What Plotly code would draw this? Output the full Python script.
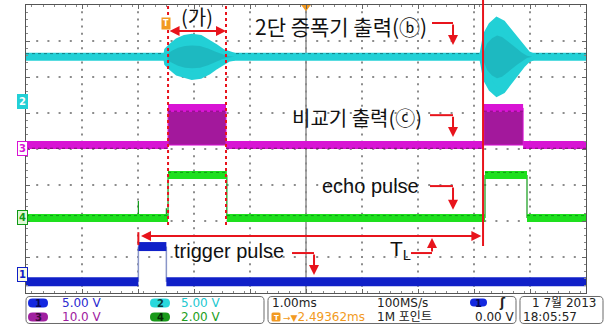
import plotly.graph_objects as go

# ---------------- acquisition settings ----------------
TIME_DIV = 1.0                 # ms / div
DELAY = 2.49362                # trigger delay shown on the status bar (ms)
N_XDIV, N_YDIV = 10, 8
T_START = -2.50638             # left edge of the screen, ms from trigger
T_END = T_START + N_XDIV * TIME_DIV
T_CENTER = T_START + N_XDIV / 2 * TIME_DIV

# ---------------- channel data ----------------
# CH1 : trigger pulse (5 V/div)
ch1_scale, ch1_offset = 5.0, 0.31
ch1_pulses = [(-0.50, 0.00)]
ch1_high = 4.9

# CH2 : 2-stage amplifier output (5 V/div), burst envelopes
ch2_scale, ch2_offset = 5.0, 6.56
burst1_t = [0.012, 0.03, 0.10, 0.208, 0.333, 0.458, 0.601, 0.744, 0.869, 0.994, 1.101, 1.208]
burst1_amp = [0.0, 0.83, 1.39, 2.08, 2.50, 2.64, 2.50, 1.94, 1.25, 0.56, 0.14, 0.0]
burst2_t = [5.655, 5.673, 5.727, 5.816, 5.905, 5.994, 6.083, 6.172, 6.262, 6.351, 6.44, 6.53]
burst2_amp = [0.0, 1.25, 3.06, 4.31, 4.93, 4.58, 3.75, 2.78, 1.81, 0.97, 0.28, 0.0]

# CH3 : comparator output (10 V/div)
ch3_scale, ch3_offset = 10.0, 4.11
ch3_pulses = [(0.03, 1.065), (5.67, 6.37)]
ch3_high = 10.3

# CH4 : echo pulse (2 V/div)
ch4_scale, ch4_offset = 2.0, 2.08
ch4_pulses = [(0.03, 1.08), (5.69, 6.44)]
ch4_high = 2.4
ch4_spikes = [(-0.50, 0.95), (0.00, 0.55)]

# ---------------- markers ----------------
gate_t = [0.03, 1.065]         # (가) window
echo_t = 5.655                 # start of the second echo
trig_t = -0.50                 # start of trigger pulse

# ---------------- colours ----------------
C_BLUE = "#1020c8"
C_BLUE_EDGE = "#8a96c8"
C_CYAN = "#22d0d6"
C_CYAN_DARK = "#1aa7b0"
C_MAG = "#d814d4"
C_MAG_FILL = "#a3189c"
C_GREEN = "#1ee01e"
C_GREEN_DARK = "#0f9a16"
C_RED = "#e8141c"
C_ORANGE = "#f29a22"

W, H = 609, 326
ML, MR, MT, MB = 26, 23, 5, 33
PW, PH = W - ML - MR, H - MT - MB


def pp(px, py):
    """pixel position -> paper coordinates"""
    return (px - ML) / PW, (H - MB - py) / PH


def level_segments(pulses, lo, hi):
    hx, hy, ex, ey = [], [], [], []
    t = T_START
    for a, b in pulses:
        hx += [t, a, None, a, b, None]
        hy += [lo, lo, None, hi, hi, None]
        ex += [a, a, None, b, b, None]
        ey += [lo, hi, None, hi, lo, None]
        t = b
    hx += [t, T_END]
    hy += [lo, lo]
    return hx, hy, ex, ey


fig = go.Figure()

# ---- dotted graticule (5 dots per division) ----
gx, gy = [], []
for i in range(1, N_XDIV):
    for k in range(1, N_YDIV * 5):
        gx.append(T_START + i * TIME_DIV)
        gy.append(k * 0.2)
for j in range(1, N_YDIV):
    for k in range(1, N_XDIV * 5):
        gx.append(T_START + k * 0.2 * TIME_DIV)
        gy.append(j)
fig.add_trace(go.Scatter(x=gx, y=gy, mode="markers", hoverinfo="skip",
                         marker=dict(symbol="square", size=2, color="#8c8c8c", line=dict(width=0))))

# ---- CH3 comparator output ----
lo3 = ch3_offset
hi3 = ch3_offset + ch3_high / ch3_scale
for a, b in ch3_pulses:
    fig.add_trace(go.Scatter(x=[a, b, b, a, a], y=[lo3, lo3, hi3, hi3, lo3], fill="toself",
                             fillcolor=C_MAG_FILL, line=dict(color=C_MAG, width=1),
                             mode="lines", hoverinfo="skip"))
hx, hy, ex, ey = level_segments(ch3_pulses, lo3, hi3)
fig.add_trace(go.Scatter(x=hx, y=hy, mode="lines", line=dict(color=C_MAG, width=8), hoverinfo="skip"))
fig.add_trace(go.Scatter(x=hx, y=[None if v is None else v - 0.09 for v in hy], mode="lines",
                         line=dict(color="#7a1070", width=1, dash="dot"), hoverinfo="skip"))

# ---- CH4 echo pulse ----
lo4 = ch4_offset
hi4 = ch4_offset + ch4_high / ch4_scale
hx, hy, ex, ey = level_segments(ch4_pulses, lo4, hi4)
fig.add_trace(go.Scatter(x=ex, y=ey, mode="lines", line=dict(color=C_GREEN_DARK, width=1.2), hoverinfo="skip"))
sx, sy = [], []
for t, v in ch4_spikes:
    sx += [t, t, None]
    sy += [lo4, lo4 + v / ch4_scale, None]
fig.add_trace(go.Scatter(x=sx, y=sy, mode="lines", line=dict(color=C_GREEN_DARK, width=1.2), hoverinfo="skip"))
fig.add_trace(go.Scatter(x=hx, y=hy, mode="lines", line=dict(color=C_GREEN, width=8), hoverinfo="skip"))
fig.add_trace(go.Scatter(x=hx, y=[None if v is None else v + 0.07 for v in hy], mode="lines",
                         line=dict(color=C_GREEN_DARK, width=1, dash="dot"), hoverinfo="skip"))

# ---- CH1 trigger pulse ----
lo1 = ch1_offset
hi1 = ch1_offset + ch1_high / ch1_scale
hx, hy, ex, ey = level_segments(ch1_pulses, lo1, hi1)
fig.add_trace(go.Scatter(x=ex, y=ey, mode="lines", line=dict(color=C_BLUE_EDGE, width=1.5), hoverinfo="skip"))
fig.add_trace(go.Scatter(x=hx, y=hy, mode="lines", line=dict(color=C_BLUE, width=9), hoverinfo="skip"))

# ---- CH2 amplifier output ----
fig.add_trace(go.Scatter(x=[T_START, T_END], y=[ch2_offset, ch2_offset], mode="lines",
                         line=dict(color=C_CYAN, width=8), hoverinfo="skip"))
fig.add_trace(go.Scatter(x=[T_START, T_END], y=[ch2_offset + 0.09, ch2_offset + 0.09], mode="lines",
                         line=dict(color="#137f86", width=1, dash="dot"), hoverinfo="skip"))
for bt, ba in ((burst1_t, burst1_amp), (burst2_t, burst2_amp)):
    up = [ch2_offset + a / ch2_scale for a in ba]
    dn = [ch2_offset - a / ch2_scale for a in ba]
    fig.add_trace(go.Scatter(x=bt + bt[::-1], y=up + dn[::-1], fill="toself", fillcolor=C_CYAN,
                             mode="lines", line=dict(color=C_CYAN, width=8), hoverinfo="skip"))
    up2 = [ch2_offset + 0.6 * a / ch2_scale for a in ba]
    dn2 = [ch2_offset - 0.6 * a / ch2_scale for a in ba]
    fig.add_trace(go.Scatter(x=bt + bt[::-1], y=up2 + dn2[::-1], fill="toself", fillcolor=C_CYAN_DARK,
                             mode="lines", line=dict(color=C_CYAN_DARK, width=0), opacity=0.55,
                             hoverinfo="skip"))

# ---- trigger position marker (top) ----
fig.add_trace(go.Scatter(x=[T_CENTER], y=[N_YDIV - 0.05], mode="markers", cliponaxis=False,
                         marker=dict(symbol="triangle-down", size=9, color=C_ORANGE), hoverinfo="skip"))

shapes = []
annos = []

# centre graticule line
shapes.append(dict(type="line", xref="x", yref="y", x0=T_CENTER, x1=T_CENTER, y0=0, y1=N_YDIV,
                   line=dict(color="#555", width=1), layer="below"))

# ---- red annotation marks ----
RED_LINE = dict(color=C_RED, width=2)
for t in gate_t:
    shapes.append(dict(type="line", xref="x", yref="y", x0=t, x1=t, y0=1.89, y1=N_YDIV,
                       line=dict(color=C_RED, width=2, dash="dot")))
shapes.append(dict(type="line", xref="x", yref="paper", x0=echo_t, x1=echo_t, y0=pp(0, 246)[1],
                   y1=pp(0, 0)[1], line=RED_LINE))
shapes.append(dict(type="line", xref="x", yref="y", x0=trig_t, x1=trig_t, y0=1.33, y1=1.69,
                   line=RED_LINE))


def arrow(x, y, ax, ay, both=False):
    annos.append(dict(x=x, y=y, ax=ax, ay=ay, xref="x", yref="y", axref="x", ayref="y", text="",
                      showarrow=True, arrowhead=2, arrowsize=1, arrowwidth=2, arrowcolor=C_RED,
                      standoff=0, startstandoff=0,
                      arrowside="end+start" if both else "end", startarrowhead=2, startarrowsize=1))


def hline(x0, x1, y):
    shapes.append(dict(type="line", xref="x", yref="y", x0=x0, x1=x1, y0=y, y1=y, line=RED_LINE))


# (가) window
arrow(gate_t[1], 7.28, gate_t[0], 7.28, both=True)
# T_L
arrow(echo_t - 0.03, 1.58, trig_t + 0.02, 1.58, both=True)
# label pointers
hline(4.744, 5.119, 7.50); arrow(5.119, 6.89, 5.119, 7.50)
hline(4.708, 5.119, 4.94); arrow(5.119, 4.33, 5.119, 4.94)
hline(4.708, 5.119, 2.97); arrow(5.119, 2.31, 5.119, 2.97)
hline(2.244, 2.637, 1.11); arrow(2.637, 0.50, 2.637, 1.11)
hline(4.369, 4.744, 1.11); arrow(4.744, 1.53, 4.744, 1.11)

KR = "Noto Sans CJK KR"
EN = "Liberation Sans, Arial"


def label(x, y, text, size=20, family=KR, anchor="left"):
    annos.append(dict(x=x, y=y, xref="x", yref="y", text=text, showarrow=False, xanchor=anchor,
                      yanchor="middle", font=dict(family=family, size=size, color="#111")))


label(0.547, 7.69, "(가)", anchor="center")
label(1.547, 7.43, "2단 증폭기 출력(ⓑ)", size=21)
label(2.208, 4.875, "비교기 출력(ⓒ)", size=20)
label(2.744, 2.97, "echo pulse", family=EN)
label(0.101, 1.167, "trigger pulse", family=EN)
label(3.958, 1.19, "T<sub>L</sub>", size=21, family=EN)

# trigger "T" marker
annos.append(dict(x=0.0, y=pp(0, 16.5)[1], xref="x", yref="paper", text="<b>T</b>", showarrow=False,
                  bgcolor=C_ORANGE, borderpad=1, font=dict(family="DejaVu Sans", size=8, color="white")))

# channel position markers
for num, py, bg, border, fg in (("2", 101, C_CYAN, C_CYAN, "white"),
                                 ("3", 148, "white", C_MAG, C_MAG),
                                 ("4", 225, "#dff7d6", C_GREEN_DARK, C_GREEN_DARK),
                                 ("1", 282, "#fbfbe4", C_BLUE, C_BLUE)):
    x, y = pp(17, py)
    annos.append(dict(x=x, y=y, xref="paper", yref="paper", text=f"<b>{num}</b>", showarrow=False,
                      bgcolor=bg, bordercolor=border, borderwidth=1, borderpad=1,
                      font=dict(family="DejaVu Sans", size=10, color=fg)))


# ---------------- status bar ----------------
def rbox(px0, py0, px1, py1, r, fill=None, line="#6a6a6a"):
    def P(a, b):
        x, y = pp(a, b)
        return f"{x:.5f},{y:.5f}"
    path = (f"M{P(px0 + r, py0)} L{P(px1 - r, py0)} Q{P(px1, py0)} {P(px1, py0 + r)} "
            f"L{P(px1, py1 - r)} Q{P(px1, py1)} {P(px1 - r, py1)} L{P(px0 + r, py1)} "
            f"Q{P(px0, py1)} {P(px0, py1 - r)} L{P(px0, py0 + r)} Q{P(px0, py0)} {P(px0 + r, py0)} Z")
    shapes.append(dict(type="path", xref="paper", yref="paper", path=path,
                       fillcolor=fill if fill else "rgba(0,0,0,0)",
                       line=dict(color=line if line else "rgba(0,0,0,0)", width=1)))


rbox(26, 296.5, 264, 323.5, 4)
rbox(268, 296.5, 516, 323.5, 4)
rbox(520, 296.5, 603, 323.5, 4)


def stext(px, py, text, color="#222", size=12, anchor="left", family="DejaVu Sans"):
    x, y = pp(px, py)
    annos.append(dict(x=x, y=y, xref="paper", yref="paper", text=text, showarrow=False,
                      xanchor=anchor, yanchor="middle", borderpad=0,
                      font=dict(family=family, size=size, color=color)))


def pill(px0, px1, py0, py1, fill, num, numcolor):
    rbox(px0, py0, px1, py1, (py1 - py0) / 2, fill=fill, line=None)
    stext((px0 + px1) / 2, (py0 + py1) / 2 + 0.5, f"<b>{num}</b>", color=numcolor, size=10, anchor="center")


pill(28, 48, 298.5, 307.5, "#1428e0", "1", "#0a0a50")
pill(150, 170, 298.5, 307.5, "#2ad8dc", "2", "#0a3a3a")
pill(28, 48, 312.5, 321.5, "#a020a0", "3", "#3a0a3a")
pill(150, 170, 312.5, 321.5, "#1a9a1a", "4", "#062a06")
stext(61, 303, "5.00 V", color="#2a2ad0")
stext(180, 303, "5.00 V", color="#22c8d0")
stext(61, 317, "10.0 V", color="#a020a0")
stext(180, 317, "2.00 V", color="#22a022")

stext(271, 303, "1.00ms")
stext(376, 303, "100MS/s")
# trigger-delay badge
rbox(271.5, 312.5, 280.5, 321.5, 1.5, fill=C_ORANGE, line=None)
stext(276, 317.5, "<b>T</b>", color="white", size=7, anchor="center")
stext(282, 317, "<span style='font-size:9px'>→▼</span>2.49362ms", color=C_ORANGE)
stext(376, 317, "1M 포인트", family="DejaVu Sans, Noto Sans CJK KR")
pill(470, 487, 298.5, 306.5, "#1428e0", "1", "#0a0a50")
stext(502, 302.5, "<b>ʃ</b>", anchor="center", size=12)
stext(474, 317, "0.00 V")
stext(531, 303, "1 7월 2013", family="DejaVu Sans, Noto Sans CJK KR")
stext(522, 317, "18:05:57")

fig.update_layout(
    width=W, height=H, margin=dict(l=ML, r=MR, t=MT, b=MB),
    paper_bgcolor="white", plot_bgcolor="white", showlegend=False,
    shapes=shapes, annotations=annos,
    xaxis=dict(range=[T_START, T_END], tick0=T_START, dtick=TIME_DIV, showticklabels=False,
               showgrid=False, zeroline=False, showline=True, linecolor="#555", linewidth=1,
               mirror="ticks", ticks="inside", ticklen=4, tickcolor="#666",
               minor=dict(dtick=0.2 * TIME_DIV, ticks="inside", ticklen=2, tickcolor="#888",
                          showgrid=False)),
    yaxis=dict(range=[0, N_YDIV], dtick=1, showticklabels=False,
               showgrid=False, zeroline=False, showline=True, linecolor="#555", linewidth=1,
               mirror="ticks", ticks="inside", ticklen=4, tickcolor="#666",
               minor=dict(dtick=0.2, ticks="inside", ticklen=2, tickcolor="#888", showgrid=False)),
)

fig.write_html("out.html", config={"displayModeBar": False})
